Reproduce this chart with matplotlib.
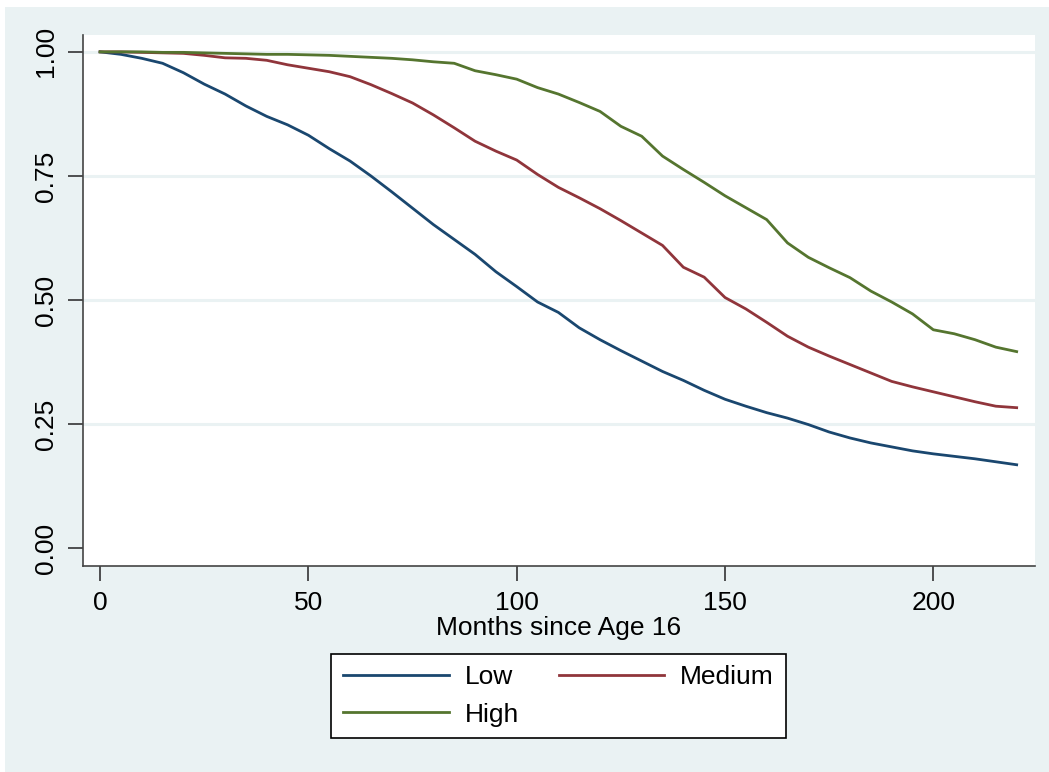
import matplotlib
matplotlib.use('Agg')
import matplotlib.pyplot as plt
from matplotlib.patches import Rectangle

plt.rcParams['font.family'] = ['Liberation Sans', 'DejaVu Sans']

# survival estimates, every 5 months
months = list(range(0, 225, 5))
low = [1.000, 0.995, 0.987, 0.977, 0.958, 0.935, 0.915, 0.891, 0.870, 0.853,
       0.832, 0.805, 0.780, 0.750, 0.718, 0.685, 0.652, 0.622, 0.592, 0.557,
       0.527, 0.496, 0.475, 0.444, 0.420, 0.398, 0.377, 0.356, 0.338, 0.318,
       0.300, 0.286, 0.273, 0.262, 0.249, 0.234, 0.222, 0.212, 0.204, 0.196,
       0.190, 0.185, 0.180, 0.174, 0.168]
medium = [1.000, 1.000, 0.999, 0.998, 0.997, 0.993, 0.988, 0.987, 0.983, 0.974,
          0.967, 0.960, 0.950, 0.934, 0.916, 0.897, 0.873, 0.847, 0.820, 0.800,
          0.782, 0.753, 0.727, 0.706, 0.684, 0.660, 0.635, 0.610, 0.566, 0.546,
          0.505, 0.482, 0.455, 0.427, 0.405, 0.387, 0.370, 0.353, 0.336, 0.325,
          0.315, 0.305, 0.295, 0.286, 0.283]
high = [1.000, 1.000, 1.000, 0.999, 0.999, 0.998, 0.997, 0.996, 0.995, 0.995,
        0.994, 0.993, 0.991, 0.989, 0.987, 0.984, 0.980, 0.977, 0.962, 0.954,
        0.945, 0.928, 0.915, 0.898, 0.880, 0.850, 0.830, 0.790, 0.763, 0.737,
        0.710, 0.686, 0.662, 0.615, 0.586, 0.565, 0.545, 0.518, 0.496, 0.472,
        0.440, 0.432, 0.420, 0.405, 0.396]

xticks = [0, 50, 100, 150, 200]
yticks = [0.0, 0.25, 0.5, 0.75, 1.0]
ylabels = ['0.00', '0.25', '0.50', '0.75', '1.00']

bg = '#EAF2F3'
W, H = 1049, 772
fig = plt.figure(figsize=(W / 100, H / 100), dpi=100, facecolor='white')
fig.patches.append(Rectangle((5 / W, 0), 1, 1 - 7 / H, transform=fig.transFigure,
                             facecolor=bg, edgecolor='none', zorder=-10))

ax = fig.add_axes([83 / W, (H - 566) / H, (1035 - 83) / W, (566 - 35) / H])
ax.set_facecolor('white')

for v in yticks[1:]:
    ax.axhline(v, color=bg, linewidth=2.2, zorder=1)

l1, = ax.plot(months, low, color='#1A476F', linewidth=2, label='Low', zorder=3)
l2, = ax.plot(months, medium, color='#90353B', linewidth=2, label='Medium', zorder=3)
l3, = ax.plot(months, high, color='#55752F', linewidth=2, label='High', zorder=3)

ax.set_xlim(-4.1, 224.4)
ax.set_ylim(-0.036, 1.034)
ax.set_xticks(xticks)
ax.set_yticks(yticks)
ax.set_yticklabels(ylabels, rotation=90, va='center')
ax.tick_params(axis='both', labelsize=19, length=11, width=1.2, color='#333333', pad=7)
ax.spines['top'].set_visible(False)
ax.spines['right'].set_visible(False)
ax.spines['left'].set_color('#444444')
ax.spines['bottom'].set_color('#444444')
ax.spines['left'].set_linewidth(1.2)
ax.spines['bottom'].set_linewidth(1.2)
ax.set_xlabel('Months since Age 16', fontsize=19, labelpad=1)

# row-wise order: Low, Medium / High
leg = fig.legend([l1, l3, l2], ['Low', 'High', 'Medium'], loc='center',
                 bbox_to_anchor=(558.5 / W, 1 - 696 / H), ncol=2,
                 fontsize=19, frameon=True, fancybox=False, edgecolor='black',
                 facecolor='white', framealpha=1,
                 handlelength=4.0, handletextpad=0.6, columnspacing=1.5,
                 labelspacing=0.5, borderpad=0.45)
leg.get_frame().set_linewidth(1.2)
for line in leg.get_lines():
    line.set_linewidth(2)

fig.savefig('out.png', dpi=100, facecolor=fig.get_facecolor())
